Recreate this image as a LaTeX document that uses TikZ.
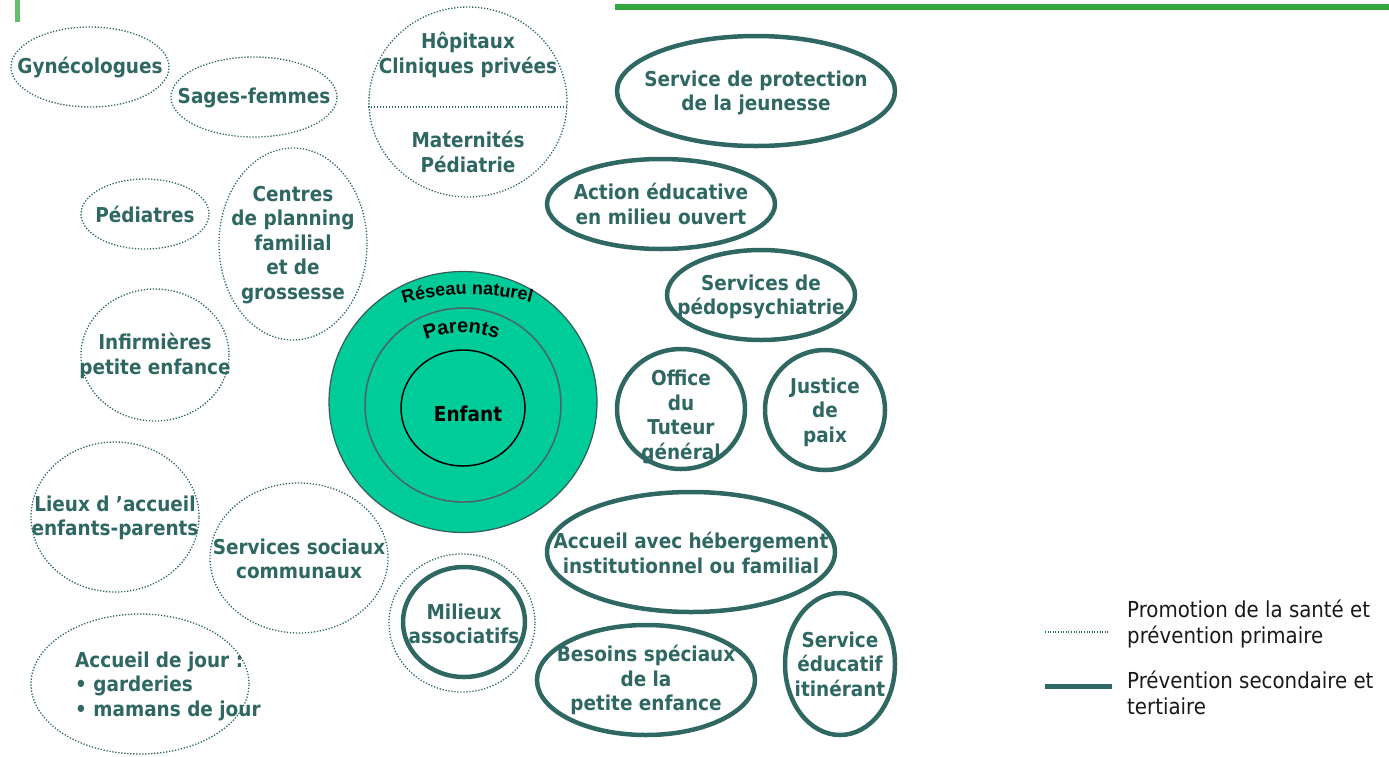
\documentclass[tikz,border=0pt]{standalone}
\usepackage{fontspec}
\setmainfont{DejaVu Sans Condensed}[BoldFont={DejaVu Sans Condensed Bold}]
\newfontfamily\arialfont{Liberation Sans}[BoldFont={Liberation Sans Bold}]
\usetikzlibrary{shapes.geometric,decorations.text}
\definecolor{tealc}{RGB}{47,104,98}
\definecolor{ringgreen}{RGB}{0,204,153}
\definecolor{ringline}{RGB}{55,90,90}
\definecolor{midline}{RGB}{75,100,105}
\definecolor{bargreen}{RGB}{51,166,61}
\definecolor{legtext}{RGB}{25,25,25}
\newcommand\labfont{\bfseries\fontsize{20.5}{24.5}\selectfont}
\newcommand\legfont{\fontsize{22}{26}\selectfont}
\tikzset{
  prim/.style={ellipse, draw=tealc, line width=1.3pt, dash pattern=on 1.3pt off 1.7pt, inner sep=0pt},
  sec/.style={ellipse, draw=tealc, line width=4.5pt, inner sep=0pt},
  lab/.style={text=tealc, font=\labfont, align=center, inner sep=0pt},
  arcA/.style={decorate, decoration={text along path, text align=center,
      text={|\arialfont\bfseries\fontsize{18}{18}\selectfont|Réseau naturel}}},
  arcB/.style={decorate, decoration={text along path, text align=center,
      text={|\arialfont\bfseries\fontsize{20}{20}\selectfont|Parents}}}
}
\begin{document}
\begin{tikzpicture}[x=1pt,y=-1pt]
\useasboundingbox (0,0) rectangle (1389,756);
% green bars
\fill[bargreen!75] (15,0) rectangle (20,22);
\fill[bargreen] (615,4) rectangle (1389,10);

% central rings
\node[ellipse, fill=ringgreen, draw=ringline, line width=1.2pt, minimum width=268pt, minimum height=261pt, inner sep=0pt] (reseau) at (463,402) {};
\node[ellipse, draw=midline, line width=1.5pt, minimum width=196pt, minimum height=194pt, inner sep=0pt] (parents) at (463,405) {};
\node[ellipse, draw=black, line width=1.5pt, minimum width=124pt, minimum height=116pt, inner sep=0pt] (enfant) at (463,408) {};
\node[font=\labfont, text=black, inner sep=0pt] (enfant-t) at (468,414) {Enfant};
\path[arcA] (398,306) .. controls (440,291) and (495,291) .. (537,304);
\path[arcB] (421,341) .. controls (448,330) and (475,330) .. (502,341);

% primary prevention (dotted)
\node[prim, minimum width=158pt, minimum height=80pt] (gyn) at (90,67) {};
\node[lab] (gyn-t) at (90,68) {Gynécologues};
\node[prim, minimum width=166pt, minimum height=80pt] (sages) at (254,97) {};
\node[lab] (sages-t) at (254,98) {Sages-femmes};
\node[prim, minimum width=198pt, minimum height=190pt] (hop) at (468,102) {};
\coordinate (hopL) at (368,107);
\coordinate (hopR) at (567,107);
\draw[tealc, line width=1.3pt, dash pattern=on 1.3pt off 1.7pt] (hopL) -- (hopR);
\node[lab] (hop-t1) at (468,55) {Hôpitaux\\Cliniques privées};
\node[lab] (hop-t2) at (468,152) {Maternités\\Pédiatrie};
\node[prim, minimum width=128pt, minimum height=70pt] (ped) at (145,214) {};
\node[lab] (ped-t) at (145,214) {Pédiatres};
\node[prim, minimum width=148pt, minimum height=192pt] (centres) at (293,244) {};
\node[lab] (centres-t) at (293,245) {Centres\\de planning\\familial\\et de\\grossesse};
\node[prim, minimum width=148pt, minimum height=132pt] (inf) at (155,355) {};
\node[lab] (inf-t) at (155,356) {Infirmières\\petite enfance};
\node[prim, minimum width=168pt, minimum height=150pt] (lieux) at (115,517) {};
\node[lab] (lieux-t) at (115,518) {Lieux d ’accueil\\enfants-parents};
\node[prim, minimum width=178pt, minimum height=150pt] (soc) at (299,558) {};
\node[lab] (soc-t) at (299,559) {Services sociaux\\communaux};
\node[prim, minimum width=218pt, minimum height=140pt] (jour) at (140,684) {};
\node[lab, align=left, anchor=west] (jour-t) at (75,686) {Accueil de jour :\\• garderies\\• mamans de jour};
\node[prim, minimum width=146pt, minimum height=138pt] (milout) at (462,623) {};

% secondary / tertiary prevention (thick)
\node[sec, minimum width=122pt, minimum height=110pt] (milin) at (464,622) {};
\node[lab] (mil-t) at (464,624) {Milieux\\associatifs};
\node[sec, minimum width=278pt, minimum height=110pt] (spj) at (756,91) {};
\node[lab] (spj-t) at (756,93) {Service de protection\\de la jeunesse};
\node[sec, minimum width=228pt, minimum height=90pt] (aemo) at (661,204) {};
\node[lab] (aemo-t) at (661,204) {Action éducative\\en milieu ouvert};
\node[sec, minimum width=188pt, minimum height=90pt] (pedo) at (761,295) {};
\node[lab] (pedo-t) at (761,297) {Services de\\pédopsychiatrie};
\node[sec, minimum width=128pt, minimum height=120pt] (otg) at (681,409) {};
\node[lab] (otg-t) at (681,417) {Office\\du\\Tuteur\\général};
\node[sec, minimum width=120pt, minimum height=120pt] (jdp) at (825,410) {};
\node[lab] (jdp-t) at (825,412) {Justice\\de\\paix};
\node[sec, minimum width=288pt, minimum height=120pt] (aheb) at (691,552) {};
\node[lab] (aheb-t) at (691,553) {Accueil avec hébergement\\institutionnel ou familial};
\node[sec, minimum width=218pt, minimum height=110pt] (besoins) at (646,680) {};
\node[lab] (besoins-t) at (646,680) {Besoins spéciaux\\de la\\petite enfance};
\node[sec, minimum width=110pt, minimum height=142pt] (sei) at (840,664) {};
\node[lab] (sei-t) at (840,664) {Service\\éducatif\\itinérant};

% legend
\coordinate (l1a) at (1045,632);
\coordinate (l1b) at (1110,632);
\draw[tealc, line width=1.2pt, dash pattern=on 1pt off 1.6pt] (l1a) -- (l1b);
\coordinate (l2a) at (1045,686);
\coordinate (l2b) at (1112,686);
\draw[tealc, line width=5pt] (l2a) -- (l2b);
\node[anchor=west, align=left, font=\legfont, text=legtext, inner sep=0pt] (leg1) at (1127,624) {Promotion de la santé et\\prévention primaire};
\node[anchor=west, align=left, font=\legfont, text=legtext, inner sep=0pt] (leg2) at (1127,693) {Prévention secondaire et\\tertiaire};
\end{tikzpicture}
\end{document}
